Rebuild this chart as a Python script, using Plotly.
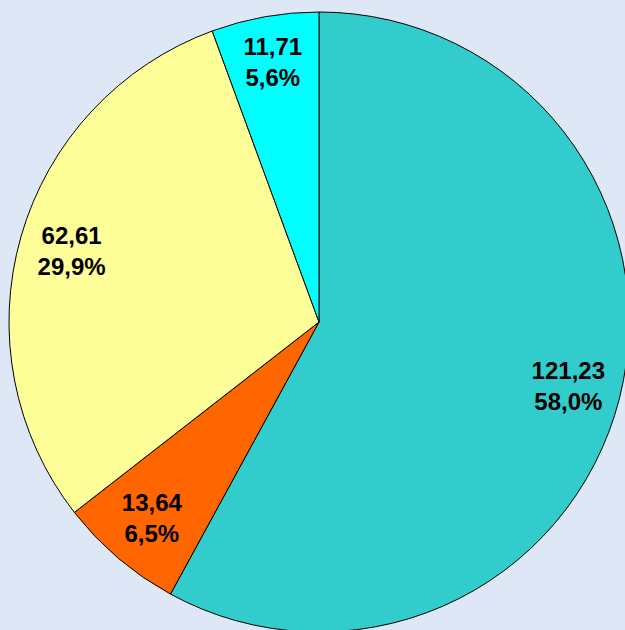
import plotly.graph_objects as go

labels = ["A", "B", "C", "D"]
values = [121.23, 13.64, 62.61, 11.71]
colors = ["#33CCCC", "#FF6600", "#FFFF99", "#00FFFF"]

FIG_W, FIG_H = 638, 644
dom = dict(x=[0.0, 1.0], y=[12 / FIG_H, 1 - 12 / FIG_H])
label_font = dict(family="Liberation Sans, Arial, sans-serif", size=24,
                  color="#000000", weight="bold")

fig = go.Figure()

# filled pie with outlines
fig.add_trace(go.Pie(
    labels=labels, values=values, sort=False, direction="clockwise", rotation=0,
    marker=dict(colors=colors, line=dict(color="#000000", width=1)),
    textinfo="none", showlegend=False, hoverinfo="skip", domain=dom,
))

# transparent ring on top to place labels at ~0.83 of the radius
fig.add_trace(go.Pie(
    labels=labels, values=values, sort=False, direction="clockwise", rotation=0,
    hole=0.66,
    marker=dict(colors=["rgba(0,0,0,0)"] * len(values), line=dict(width=0)),
    texttemplate="%{value:.2f}<br>%{percent:.1%}",
    textposition="inside", insidetextorientation="horizontal",
    textfont=label_font, showlegend=False, hoverinfo="skip", domain=dom,
))

fig.update_layout(
    width=FIG_W, height=FIG_H,
    margin=dict(l=0, r=0, t=0, b=0),
    paper_bgcolor="#DDE7F5", plot_bgcolor="#DDE7F5",
    separators=",.",
    uniformtext=dict(minsize=24, mode="show"),
)

fig.write_html(
    "out.html",
    config={"displayModeBar": False},
    post_script=(
        "document.body.style.margin='0';"
        "document.body.style.overflow='hidden';"
        "document.documentElement.style.overflow='hidden';"
        "document.body.style.background='#DDE7F5';"
    ),
)
